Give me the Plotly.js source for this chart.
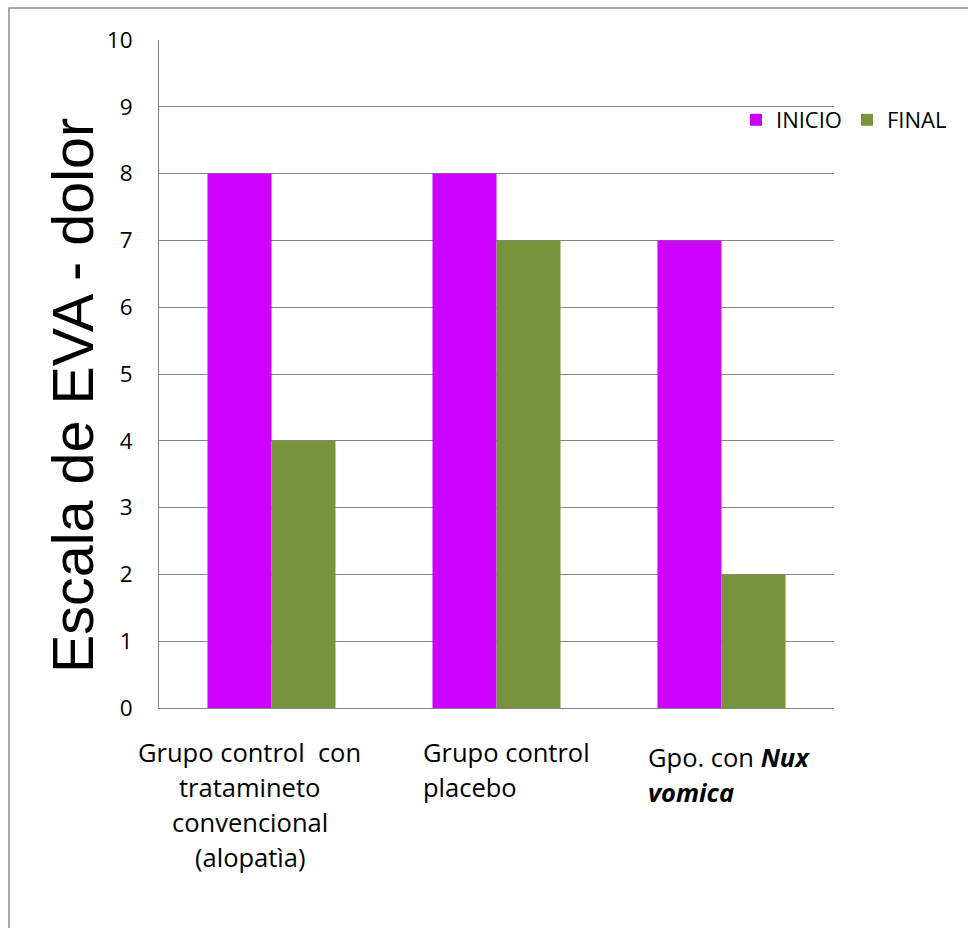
<!DOCTYPE html>
<html>
<head>
<meta charset="utf-8">
<script src="https://cdn.plot.ly/plotly-3.0.1.min.js"></script>
<style>
  html, body { margin: 0; padding: 0; background: #ffffff; overflow: hidden; }
  #chart { width: 968px; height: 928px; }
</style>
</head>
<body>
<div id="chart"></div>
<script>
// EVA pain scale, before (INICIO) and after (FINAL) treatment, per group
const categories = ['Grupo control con tratamineto convencional (alopatìa)', 'Grupo control placebo', 'Gpo. con Nux vomica'];
const categoryLabelLines = [
  ['Grupo control\u00A0 con', 'tratamineto', 'convencional', '(alopatìa)'],
  ['Grupo control', 'placebo'],
  ['Gpo. con <b><i>Nux</i></b>', '<b><i>vomica</i></b>']
];
const seriesNames = ['INICIO', 'FINAL'];
const inicioValues = [8, 8, 7];
const finalValues = [4, 7, 2];
const yTickValues = [0, 1, 2, 3, 4, 5, 6, 7, 8, 9, 10];
const yAxisTitle = 'Escala de EVA - dolor';

const W = 968, H = 928;
const M = { l: 159, r: 134, t: 40, b: 220 };
const plotW = W - M.l - M.r, plotH = H - M.t - M.b;
// pixel -> paper coordinates helpers for layout decorations
const px = x => (x - M.l) / plotW;
const py = y => (H - M.b - y) / plotH;

const labelFont = { family: 'Open Sans, sans-serif', size: 25.5, color: '#000000' };
const GRID = '#868686';

const traces = [
  { type: 'bar', name: seriesNames[0], x: categories, y: inicioValues,
    marker: { color: '#CC00FF', line: { width: 0 } }, hoverinfo: 'skip' },
  { type: 'bar', name: seriesNames[1], x: categories, y: finalValues,
    marker: { color: '#77933C', line: { width: 0 } }, hoverinfo: 'skip' }
];

// category labels under each group: one annotation per text line
const labelStyle = [
  { x: 249.5, top: 745, align: 'center', anchor: 'center' },
  { x: 421, top: 745, align: 'left', anchor: 'left' },
  { x: 646, top: 750, align: 'left', anchor: 'left' }
];
const LINE_STEP = 35;
const annotations = [];
categoryLabelLines.forEach((lines, i) => {
  const st = labelStyle[i];
  lines.forEach((line, j) => {
    annotations.push({
      xref: 'paper', yref: 'paper',
      x: px(st.x), y: py(st.top + j * LINE_STEP - 12),
      xanchor: st.anchor, yanchor: 'top', align: st.align,
      text: line, showarrow: false, font: labelFont
    });
  });
});
annotations.push({
  xref: 'paper', yref: 'paper', x: px(73), y: py(396),
  xanchor: 'center', yanchor: 'middle', textangle: -90,
  text: yAxisTitle, showarrow: false,
  font: { family: 'Liberation Sans, Arial, sans-serif', size: 57.5, color: '#000000' }
});

const layout = {
  width: W, height: H,
  margin: M,
  paper_bgcolor: '#ffffff', plot_bgcolor: '#ffffff',
  barmode: 'group', bargap: 0.431, bargroupgap: 0,
  showlegend: true,
  legend: {
    orientation: 'h', x: px(736), xanchor: 'left', y: py(120), yanchor: 'middle',
    font: { family: 'Open Sans, sans-serif', size: 22, color: '#000000' },
    bgcolor: 'rgba(0,0,0,0)', itemwidth: 30, tracegroupgap: 0
  },
  xaxis: {
    type: 'category', showticklabels: false, ticks: '',
    showline: true, linecolor: GRID, linewidth: 1, showgrid: false, zeroline: false,
    fixedrange: true
  },
  yaxis: {
    range: [0, 10], tickvals: yTickValues, ticktext: yTickValues.map(String),
    ticks: '', ticklabelstandoff: 21,
    tickfont: { family: 'Open Sans, sans-serif', size: 22.5, color: '#000000' },
    showline: true, linecolor: GRID, linewidth: 1,
    showgrid: true, gridcolor: GRID, gridwidth: 1, zeroline: false,
    fixedrange: true
  },
  annotations: annotations,
  shapes: [{
    type: 'rect', xref: 'paper', yref: 'paper', layer: 'below',
    x0: px(9), x1: px(985), y0: py(945), y1: py(8),
    line: { color: '#8c8c8c', width: 1.5 }, fillcolor: 'rgba(0,0,0,0)'
  }]
};

Plotly.newPlot('chart', traces, layout, { staticPlot: true, displayModeBar: false });
</script>
</body>
</html>
